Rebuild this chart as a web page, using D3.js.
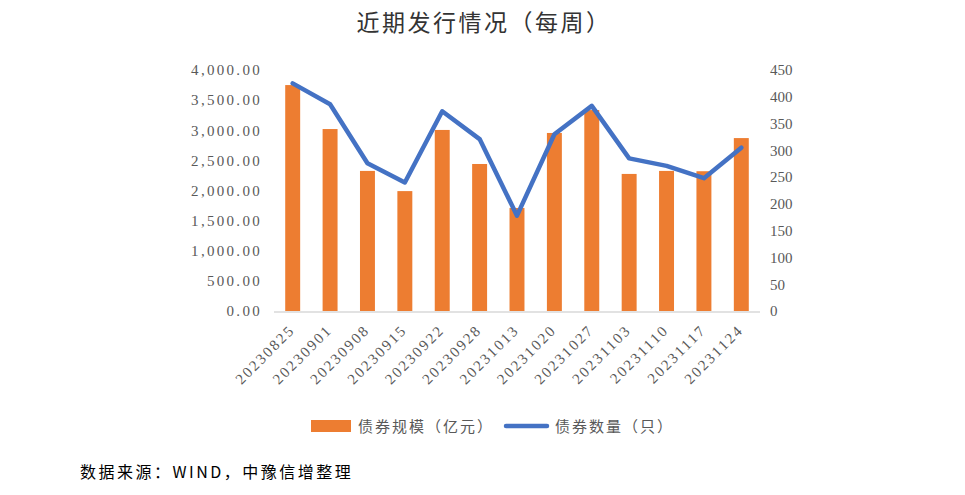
<!DOCTYPE html>
<html><head><meta charset="utf-8">
<script src="https://cdn.jsdelivr.net/npm/d3@7/dist/d3.min.js"></script>
<style>body{margin:0;background:#fff;} svg{display:block;}</style>
</head><body>
<svg id="c" width="965" height="495"></svg>
<script>
const categories = ["20230825","20230901","20230908","20230915","20230922","20230928","20231013","20231020","20231027","20231103","20231110","20231117","20231124"];
const bondScale = [3750, 3020, 2325, 1990, 3005, 2440, 1710, 2955, 3335, 2275, 2325, 2320, 2870];
const bondCount = [425, 386, 276, 240, 373, 321, 178, 330, 383, 285, 271, 248, 305];
const leftTicks = [0,500,1000,1500,2000,2500,3000,3500,4000];
const rightTicks = [0,50,100,150,200,250,300,350,400,450];
const title = "近期发行情况（每周）";
const legendLabels = ["债券规模（亿元）","债券数量（只）"];
const source = "数据来源：WIND，中豫信增整理";

(function(){
const svg = d3.select("#c");
const pL = 274, pR = 760, pT = 70, pB = 311;
const serif = "'Liberation Serif','DejaVu Serif',serif";
const cjk = "'Noto Sans CJK SC',sans-serif";

const x = d3.scaleBand().domain(categories).range([pL, pR]).paddingInner(0.6).paddingOuter(0.3);
const yL = d3.scaleLinear().domain([0,4000]).range([pB, pT]);
const yR = d3.scaleLinear().domain([0,450]).range([pB, pT]);

svg.append("text").attr("x", 484).attr("y", 31).attr("text-anchor","middle")
  .attr("font-family", cjk).attr("font-size", 23).attr("letter-spacing",2.5).attr("fill","#333").text(title);

// bars
svg.selectAll("rect.bar").data(bondScale).join("rect").attr("class","bar")
  .attr("x",(d,i)=>x(categories[i])).attr("width",x.bandwidth())
  .attr("y",d=>yL(d)).attr("height",d=>pB-yL(d)).attr("fill","#ED7D31");

// baseline
svg.append("line").attr("x1",pL).attr("x2",pR).attr("y1",pB+1).attr("y2",pB+1)
  .attr("stroke","#d9d9d9").attr("stroke-width",1.5);

// left axis
const axL = d3.axisLeft(yL).tickValues(leftTicks).tickSize(0).tickPadding(12)
  .tickFormat(d=>d3.format(",.2f")(d));
const gL = svg.append("g").attr("transform",`translate(${pL},0)`).call(axL);
gL.select(".domain").remove();
gL.selectAll("text").attr("font-family",serif).attr("font-size",15).attr("letter-spacing",2.3).attr("fill","#595959");

// right axis
const axR = d3.axisRight(yR).tickValues(rightTicks).tickSize(0).tickPadding(10);
const gR = svg.append("g").attr("transform",`translate(${pR},0)`).call(axR);
gR.select(".domain").remove();
gR.selectAll("text").attr("font-family",serif).attr("font-size",15).attr("fill","#595959");

// line
const line = d3.line().x((d,i)=>x(categories[i])+x.bandwidth()/2).y(d=>yR(d));
svg.append("path").datum(bondCount).attr("d",line).attr("fill","none")
  .attr("stroke","#4472C4").attr("stroke-width",4.5).attr("stroke-linejoin","round").attr("stroke-linecap","round");

// x labels
const gx = svg.append("g");
categories.forEach(c=>{
  const cx = x(c)+x.bandwidth()/2 + 3;
  gx.append("text").attr("transform",`translate(${cx},${pB+20}) rotate(-45)`)
    .attr("text-anchor","end").attr("font-family",serif).attr("font-size",15).attr("letter-spacing",2.1).attr("fill","#595959").text(c);
});

// legend
svg.append("rect").attr("x",311).attr("y",420).attr("width",40).attr("height",12).attr("fill","#ED7D31");
svg.append("text").attr("x",358).attr("y",432).attr("font-family",cjk).attr("font-size",15).attr("fill","#595959").attr("letter-spacing",2).text(legendLabels[0]);
svg.append("line").attr("x1",506).attr("x2",547).attr("y1",426).attr("y2",426).attr("stroke","#4472C4").attr("stroke-width",4.5).attr("stroke-linecap","round");
svg.append("text").attr("x",555).attr("y",432).attr("font-family",cjk).attr("font-size",15).attr("fill","#595959").attr("letter-spacing",2).text(legendLabels[1]);

// source
svg.append("text").attr("x",80).attr("y",478).attr("font-family",cjk).attr("font-size",16).attr("letter-spacing",2.5).attr("fill","#000").text(source);
})();
</script>
</body></html>
